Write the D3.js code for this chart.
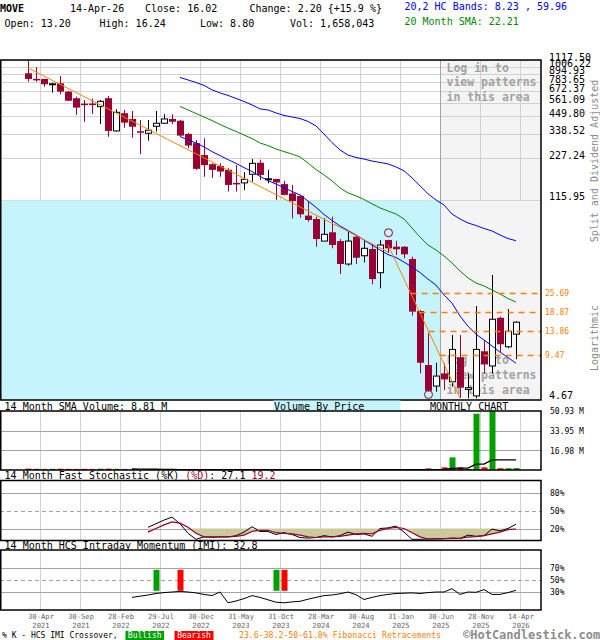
<!DOCTYPE html>
<html><head><meta charset="utf-8">
<script src="https://cdn.jsdelivr.net/npm/d3@7"></script>
<style>body{margin:0;background:#fff}svg{display:block}</style>
</head><body><svg id="c" width="600" height="640"></svg>
<script>
// ---------------- DATA ----------------
const months = ["Mar-21","Apr-21","May-21","Jun-21","Jul-21","Aug-21","Sep-21","Oct-21","Nov-21","Dec-21",
"Jan-22","Feb-22","Mar-22","Apr-22","May-22","Jun-22","Jul-22","Aug-22","Sep-22","Oct-22","Nov-22","Dec-22",
"Jan-23","Feb-23","Mar-23","Apr-23","May-23","Jun-23","Jul-23","Aug-23","Sep-23","Oct-23","Nov-23","Dec-23",
"Jan-24","Feb-24","Mar-24","Apr-24","May-24","Jun-24","Jul-24","Aug-24","Sep-24","Oct-24","Nov-24","Dec-24",
"Jan-25","Feb-25","Mar-25","Apr-25","May-25","Jun-25","Jul-25","Aug-25","Sep-25","Oct-25","Nov-25","Dec-25",
"Jan-26","Feb-26","Mar-26","Apr-26"];
const openP  = [903,825,824,756,768,671,603,552,553,526,603,355,473,431,353,342,383,402,431,419,338,291,240,207,201,189,153,153,176,212,162,163,150,129,124,90,85.2,59.6,68.7,59.6,41.1,64.0,47.0,52.4,35.7,60.6,54.4,54.4,44.6,19.2,8.00,5.69,6.99,6.10,9.07,5.39,4.85,10.0,7.88,17.2,10.75,13.20];
const highP  = [1104,996,826,776,865,678,618,586,600,586,626,504,499,490,424,424,490,465,465,424,343,307,315,210,210,194,204,182,225,223,189,163,158,148,126,113,88.5,86.2,88.5,61.6,69.4,64.7,59.6,56.5,60.6,60.9,59.9,54.9,46.3,19.5,13.4,8.30,8.22,13.0,13.0,6.99,20.8,12.0,34.4,17.5,19.8,16.24];
const lowP   = [789,789,727,660,643,575,460,412,467,397,323,351,374,318,244,303,351,400,397,323,268,189,169,166,169,133,133,136,156,160,152,116,125,86,87,81.6,54.4,59.5,53.0,34.9,40.0,41.1,42.2,29.6,27.7,49.1,47.6,45.1,17.8,6.99,5.19,5.19,5.33,5.63,4.70,4.67,4.67,6.99,6.99,9.91,10.5,8.80];
const closeP = [824,818,756,762,671,579,518,546,548,574,355,480,406,380,347,359,402,431,412,329,280,192,204,189,184,148,150,162,210,174,163.5,154,126,114,92,83.8,61.6,66.5,55.9,41.1,59.6,45.5,53.0,32.2,55.9,53.0,52.2,48.1,19.0,8.30,5.27,6.69,6.34,10.3,5.54,5.54,10.3,8.08,16.8,11.2,13.82,16.02];
// volume in millions
const volume = [1.2,1.0,0.9,1.0,1.1,1.0,0.9,1.0,0.9,1.1,1.2,1.0,0.9,
0.5,0.4,0.4,0.3,0.3,0.3,0.3,0.4,0.3,0.3,0.3,0.3,0.3,0.3,0.3,0.3,0.3,0.3,0.3,0.3,0.3,0.3,0.3,0.3,0.3,0.3,0.3,0.3,0.3,0.3,0.3,0.3,0.4,0.4,0.5,0.6,0.6,
1.4,0.6,2.3,10.9,2.3,0.9,48.6,2.3,50.93,1.5,1.5,1.658043];
const volSMAStart = 13;
const volSMA = [0.9,0.85,0.8,0.7,0.6,0.5,0.45,0.4,0.35,0.3,0.3,0.3,0.3,0.3,0.3,0.3,0.3,0.3,0.3,0.3,0.3,0.3,0.3,0.3,0.3,0.3,0.3,0.3,0.3,0.3,0.3,0.3,0.3,0.3,0.3,0.3,0.35,
0.4,0.45,0.6,1.4,1.55,1.6,5.0,5.1,8.7,8.8,8.8,8.81];
const bandStart = 19;
const hcUpper = [844,811,778,742,690,657,631,601,572,541,507,499,475,456,445,434,414,385,338,294,261,240,231,225,218,213,208,198,186,166,146,128,116,107,92.4,85.2,79.9,76.7,73.1,70.2,65.8,62.1,59.96];
const sma20   = [528,499,471,445,420,394,372,352,332,314,292,280,265,254,244,233,211,190,174,158,141,130,124,117,109,102,97.0,92.4,85.2,73.6,63.6,55.9,51.6,46.8,41.8,36.7,32.8,30.2,28.8,27.0,25.3,23.5,22.21];
const hcLower = [324,307,292,274,254,238,223,210,196,184,170,159,150,142,133,126,114,103,91.7,83.2,76.1,70.7,65.8,60.6,55.9,51.6,47.9,45.7,42.4,39.1,35.8,32.2,29.2,24.9,21.8,17.7,15.0,13.2,12.0,10.9,9.87,9.03,8.23];
const stochStart = 15;
const stochK = [22,28,34,39,28,12,2,6,6,6,6,8,14,23,15,15,10,13,10,5,4,5,8,6,8,14,10,11,7,20,21,24,14,2,2,2.5,3,3,4,3.5,9,7,8,19,16,20,27.1];
const stochD = [14,20,26,31,29,22,12,6,5,6,6,7,9,15,17,17,13,12,11,9,6,5,6,6,7,9,11,12,11,17,20,22,20,13,6,2.5,2.5,3,3.5,3.5,5.5,6.5,8,11,14,18,19.2];
const imiStart = 13;
const imi = [21,23,25,27.5,29,30,31,30,28.5,26,24,30,12,15,19,24,21,17,13,12,13.5,14.5,18,21,24,25,27,30,25.5,17.5,21,24,26,27.5,28,28.5,27.5,29,30,30,35.5,26,30,29.5,34,26,26,29,32.8];
const bullishIdx = [16,31];
const bearishIdx = [19,32];
const priceTicks = [1117.50,1006.22,894.93,783.65,672.37,561.09,449.80,338.52,227.24,115.95,4.67];
const fibLevels = [25.69,18.87,13.86,9.47];
const trend1 = [[0,985],[45,50]];
const trend2 = [[45,55.9],[54,4.69]];
const pivotHigh = 45, pivotLow = 50;
const tickIdx = [1,6,11,16,21,26,31,36,41,46,51,56,61];
const tickLabels = [["30-Apr","2021"],["30-Sep","2021"],["28-Feb","2022"],["29-Jul","2022"],["30-Dec","2022"],["31-May","2023"],["31-Oct","2023"],["28-Mar","2024"],["30-Aug","2024"],["31-Jan","2025"],["30-Jun","2025"],["28-Nov","2025"],["14-Apr","2026"]];
const volTicks = [16.98,33.95,50.93];
const stochTicks = [20,50,80];
const imiTicks = [30,50,70];

// ---------------- DRAW ----------------
const FONT = '"DejaVu Sans Mono", monospace';
const RED = '#990033';
const svg = d3.select('#c').attr('font-family', FONT);
const R = 541, T = 60, B = 400;
const N = openP.length;
const idx = d3.range(N);
const x = d3.scaleLinear().domain([0, 61]).range([28, 516]);
const y = d3.scaleLog().domain([4.54, 1120]).range([B, T]);
const gridX = tickIdx.map(i => x(i + 0.5));
const yBlue = y(115.95);

// header
const last = N - 1;
const chg = closeP[last] - closeP[last - 1];
const hdr = [
  [0, 12, 'MOVE', '#000', 'bold'],
  [70, 12, '14-Apr-26', '#000'],
  [145, 12, 'Close: ' + closeP[last].toFixed(2), '#000'],
  [249.5, 12, 'Change: ' + chg.toFixed(2) + ' {+' + (chg / closeP[last - 1] * 100).toFixed(1) + ' %}', '#000'],
  [404.5, 10, '20,2 HC Bands: ' + hcLower[hcLower.length - 1].toFixed(2) + ' , ' + hcUpper[hcUpper.length - 1].toFixed(2), '#0000ee'],
  [4.6, 27, 'Open: ' + openP[last].toFixed(2), '#000'],
  [99.5, 27, 'High: ' + highP[last].toFixed(2), '#000'],
  [200, 27, 'Low: ' + lowP[last].toFixed(2), '#000'],
  [290, 27, 'Vol: ' + d3.format(',')(Math.round(volume[last] * 1e6)), '#000'],
  [404.5, 25, '20 Month SMA: ' + sma20[sma20.length - 1].toFixed(2), '#008800']
];
hdr.forEach(h => svg.append('text').attr('x', h[0]).attr('y', h[1]).attr('font-size', 10)
  .attr('fill', h[3]).attr('font-weight', h[4] || 'normal').text(h[2]));

// main background areas
svg.append('rect').attr('x', 440).attr('y', T).attr('width', R - 440).attr('height', B - T).attr('fill', '#f4f4f4');
const gm = svg.append('g').attr('shape-rendering', 'crispEdges');
priceTicks.filter(v => v > 100).forEach(v => gm.append('line').attr('x1', 0).attr('x2', R)
  .attr('y1', Math.round(y(v)) + 0.5).attr('y2', Math.round(y(v)) + 0.5).attr('stroke', '#d2d2d2'));
gridX.forEach(gx => gm.append('line').attr('x1', gx + 0.5).attr('x2', gx + 0.5).attr('y1', T).attr('y2', yBlue).attr('stroke', '#d2d2d2'));
svg.append('rect').attr('x', 0).attr('y', yBlue + 0.5).attr('width', 440).attr('height', B - yBlue).attr('fill', '#c6f4fd');
gm.append('line').attr('x1', 440.5).attr('x2', 440.5).attr('y1', T).attr('y2', B).attr('stroke', '#a4a4a4');

// "log in" text
[[71.5, 86, 101], [363.5, 378.5, 393.5]].forEach(ys => {
  ['Log in to', 'view patterns', 'in this area'].forEach((t, k) => svg.append('text')
    .attr('x', 446.5).attr('y', ys[k]).attr('font-size', 11.5).attr('font-weight', 'bold')
    .attr('fill', '#a2a2a2').text(t));
});

// candles
const cg = svg.append('g');
idx.forEach(i => {
  const up = closeP[i] >= openP[i];
  const col = up ? '#000' : RED;
  const cx = Math.round(x(i)) + 0.5;
  cg.append('line').attr('x1', cx).attr('x2', cx).attr('y1', y(highP[i])).attr('y2', y(lowP[i]))
    .attr('stroke', col).attr('stroke-width', 1);
  const yt = y(Math.max(openP[i], closeP[i])), yb = y(Math.min(openP[i], closeP[i]));
  if (up) {
    cg.append('rect').attr('x', cx - 3).attr('y', yt).attr('width', 6).attr('height', Math.max(1, yb - yt))
      .attr('fill', '#fff').attr('stroke', '#000').attr('stroke-width', 1);
  } else {
    cg.append('rect').attr('x', cx - 3.5).attr('y', yt).attr('width', 7).attr('height', Math.max(1.5, yb - yt))
      .attr('fill', RED);
  }
});

// bands & sma
const bandLine = d3.line().x((d, k) => x(bandStart + k)).y(d => y(d));
svg.append('path').attr('d', bandLine(hcUpper)).attr('fill', 'none').attr('stroke', '#0000ff').attr('stroke-width', 1);
svg.append('path').attr('d', bandLine(hcLower)).attr('fill', 'none').attr('stroke', '#0000ff').attr('stroke-width', 1);
svg.append('path').attr('d', bandLine(sma20)).attr('fill', 'none').attr('stroke', '#008800').attr('stroke-width', 1);

// trendlines
const tl = d3.line().x(d => x(d[0])).y(d => y(d[1]));
svg.append('path').attr('d', tl(trend1)).attr('fill', 'none').attr('stroke', '#ff8000').attr('stroke-width', 1);
svg.append('path').attr('d', tl(trend2)).attr('fill', 'none').attr('stroke', '#ff8000').attr('stroke-width', 1);

// fib dashed lines start where trend2 crosses the level
const la = Math.log(trend2[0][1]), lb = Math.log(trend2[1][1]);
fibLevels.forEach(v => {
  const t = (Math.log(v) - la) / (lb - la);
  const xi = trend2[0][0] + t * (trend2[1][0] - trend2[0][0]);
  svg.append('line').attr('x1', x(xi)).attr('x2', R).attr('y1', Math.round(y(v)) + 0.5).attr('y2', Math.round(y(v)) + 0.5)
    .attr('stroke', '#ff8000').attr('stroke-width', 1.3).attr('stroke-dasharray', '6,5');
  svg.append('text').attr('x', 545).attr('y', y(v) + 3).attr('font-size', 8).attr('fill', '#ff8000').text(v.toFixed(2));
});

// pivot circles
svg.append('circle').attr('cx', x(pivotHigh) + 0.5).attr('cy', y(highP[pivotHigh]) - 7).attr('r', 4)
  .attr('fill', 'none').attr('stroke', RED).attr('stroke-width', 1);
svg.append('circle').attr('cx', x(pivotLow) + 0.5).attr('cy', Math.min(y(lowP[pivotLow]) + 7, 394.5)).attr('r', 4)
  .attr('fill', 'none').attr('stroke', RED).attr('stroke-width', 1);

// main border
svg.append('rect').attr('x', 0.75).attr('y', T).attr('width', R - 0.75).attr('height', B - T)
  .attr('fill', 'none').attr('stroke', '#000').attr('stroke-width', 1.5);

// right price axis
const pa = svg.append('g').attr('transform', `translate(${R},0)`)
  .call(d3.axisRight(y).tickValues(priceTicks).tickFormat(d3.format('.2f')).tickSize(0).tickPadding(8));
pa.select('.domain').remove();
pa.attr('font-family', FONT).attr('font-size', 10);
pa.selectAll('text').attr('dy', '0').attr('fill', '#000');

// rotated side labels
svg.append('text').attr('transform', 'translate(598,161) rotate(-90)').attr('text-anchor', 'middle')
  .attr('font-size', 10).attr('fill', '#8a8a8a').text('Split and Dividend Adjusted');
svg.append('text').attr('transform', 'translate(598,338) rotate(-90)').attr('text-anchor', 'middle')
  .attr('font-size', 10).attr('fill', '#8a8a8a').text('Logarithmic');

// ---------- volume panel ----------
svg.append('text').attr('x', 4.6).attr('y', 409.5).attr('font-size', 10).text('14 Month SMA Volume: ' + volSMA[volSMA.length - 1].toFixed(2) + ' M');
svg.append('rect').attr('x', 273.5).attr('y', 400.5).attr('width', 127).attr('height', 10.5).attr('fill', '#c6f4fd');
svg.append('text').attr('x', 274).attr('y', 409.5).attr('font-size', 10).text('Volume By Price');
svg.append('text').attr('x', 430).attr('y', 409.5).attr('font-size', 10).text('MONTHLY CHART');

function panel(top, bot, yS, solid, dashed) {
  const g = svg.append('g').attr('shape-rendering', 'crispEdges');
  gridX.forEach(gx => g.append('line').attr('x1', gx + 0.5).attr('x2', gx + 0.5).attr('y1', top).attr('y2', bot).attr('stroke', '#d2d2d2'));
  solid.forEach(v => g.append('line').attr('x1', 0).attr('x2', R).attr('y1', Math.round(yS(v)) + 0.5).attr('y2', Math.round(yS(v)) + 0.5).attr('stroke', '#a4a4a4'));
  dashed.forEach(v => g.append('line').attr('x1', 0).attr('x2', R).attr('y1', Math.round(yS(v)) + 0.5).attr('y2', Math.round(yS(v)) + 0.5).attr('stroke', '#a4a4a4').attr('stroke-dasharray', '4,3'));
}
function border(top, bot) {
  svg.append('rect').attr('x', 0.75).attr('y', top).attr('width', R - 0.75).attr('height', bot - top)
    .attr('fill', 'none').attr('stroke', '#000').attr('stroke-width', 1.5);
}
function rightAxis(yS, ticks, fmt, top) {
  const a = svg.append('g').attr('transform', `translate(${R},0)`)
    .call(d3.axisRight(yS).tickValues(ticks).tickFormat(fmt).tickSize(0).tickPadding(9));
  a.select('.domain').remove();
  a.attr('font-family', FONT).attr('font-size', 8);
  a.selectAll('text').attr('dy', '0.35em').attr('fill', '#000');
}

const vTop = 411, vBot = 470;
const yV = d3.scaleLinear().domain([0, 50.93]).range([vBot, vTop]);
panel(vTop, vBot, yV, [16.98, 33.95], []);
idx.forEach(i => {
  const up = closeP[i] >= openP[i];
  svg.append('rect').attr('x', x(i) - 2.5).attr('y', yV(volume[i])).attr('width', 6)
    .attr('height', vBot - yV(volume[i])).attr('fill', up ? '#00a000' : '#ff0000');
});
svg.append('path').attr('d', d3.line().x((d, k) => x(volSMAStart + k)).y(d => yV(d))(volSMA))
  .attr('fill', 'none').attr('stroke', '#000').attr('stroke-width', 1.2);
border(vTop, vBot);
rightAxis(yV, volTicks, d => d.toFixed(2) + ' M');

// ---------- stochastic panel ----------
const st = svg.append('text').attr('x', 4.6).attr('y', 479).attr('font-size', 10);
st.append('tspan').text('14 Month Fast Stochastic (%K) ');
st.append('tspan').attr('fill', RED).text('(%D)');
st.append('tspan').text(': ' + stochK[stochK.length - 1].toFixed(1) + '  ');
st.append('tspan').attr('fill', RED).text(stochD[stochD.length - 1].toFixed(1));
const sTop = 480.5, sBot = 540.5;
const yS = d3.scaleLinear().domain([0, 100]).range([sBot, sTop]);
panel(sTop, sBot, yS, [20, 80], [50]);
svg.append('path').attr('d', d3.area().x((d, k) => x(stochStart + k)).y0(yS(20)).y1(d => yS(Math.min(20, d)))(stochD))
  .attr('fill', '#cdc99a');
svg.append('path').attr('d', d3.line().x((d, k) => x(stochStart + k)).y(d => yS(d))(stochK))
  .attr('fill', 'none').attr('stroke', '#000').attr('stroke-width', 1);
svg.append('path').attr('d', d3.line().x((d, k) => x(stochStart + k)).y(d => yS(d))(stochD))
  .attr('fill', 'none').attr('stroke', RED).attr('stroke-width', 1.2);
border(sTop, sBot);
rightAxis(yS, stochTicks, d => d + '%');

// ---------- IMI panel ----------
svg.append('text').attr('x', 4.6).attr('y', 548.5).attr('font-size', 10)
  .text('14 Month HCS Intraday Momentum (IMI): ' + imi[imi.length - 1].toFixed(1));
const iTop = 550, iBot = 610;
const yI = d3.scaleLinear().domain([0, 100]).range([iBot, iTop]);
panel(iTop, iBot, yI, [30, 70], [50]);
bullishIdx.forEach(i => svg.append('rect').attr('x', x(i) - 2.5).attr('y', yI(67)).attr('width', 6)
  .attr('height', yI(32) - yI(67)).attr('fill', '#00a000'));
bearishIdx.forEach(i => svg.append('rect').attr('x', x(i) - 2.5).attr('y', yI(67)).attr('width', 6)
  .attr('height', yI(32) - yI(67)).attr('fill', '#ff0000'));
svg.append('path').attr('d', d3.line().x((d, k) => x(imiStart + k)).y(d => yI(d))(imi))
  .attr('fill', 'none').attr('stroke', '#000').attr('stroke-width', 1);
border(iTop, iBot);
rightAxis(yI, imiTicks, d => d + '%');

// ---------- x labels ----------
tickIdx.forEach((ti, k) => {
  const tx = x(ti + 0.5) + 1;
  svg.append('text').attr('x', tx).attr('y', 619).attr('text-anchor', 'middle').attr('font-size', 7.2).attr('fill', '#666').text(tickLabels[k][0]);
  svg.append('text').attr('x', tx).attr('y', 627.5).attr('text-anchor', 'middle').attr('font-size', 7.2).attr('fill', '#666').text(tickLabels[k][1]);
});

// ---------- footer ----------
svg.append('text').attr('x', 2).attr('y', 637.5).attr('font-size', 8).text('% K - HCS IMI Crossover,');
svg.append('rect').attr('x', 125.5).attr('y', 631).attr('width', 38.5).attr('height', 9).attr('fill', '#00a000');
svg.append('text').attr('x', 144.7).attr('y', 637.8).attr('text-anchor', 'middle').attr('font-size', 8).attr('fill', '#fff').text('Bullish');
svg.append('rect').attr('x', 174.5).attr('y', 631).attr('width', 39).attr('height', 9).attr('fill', '#ff0000');
svg.append('text').attr('x', 194).attr('y', 637.8).attr('text-anchor', 'middle').attr('font-size', 8).attr('fill', '#fff').text('Bearish');
svg.append('text').attr('x', 239).attr('y', 637.5).attr('font-size', 8.2).attr('fill', '#ff8000').text('23.6-38.2-50-61.8% Fibonacci Retracements');
svg.append('text').attr('x', 463).attr('y', 639).attr('font-size', 12).attr('font-weight', 'bold').attr('fill', '#8c8c8c').text('©HotCandlestick.com');
</script>
</body></html>
